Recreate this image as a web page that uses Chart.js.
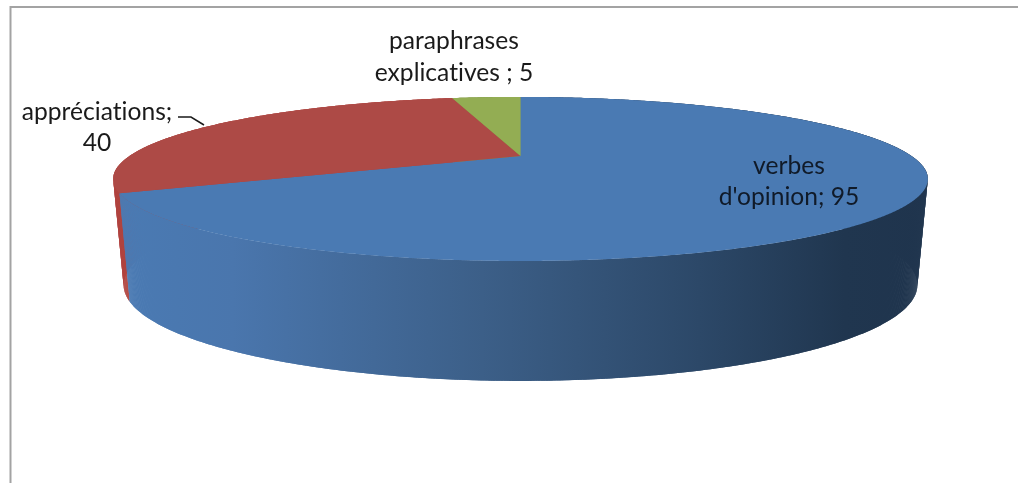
<!DOCTYPE html>
<html>
<head>
<meta charset="utf-8">
<style>
html,body{margin:0;padding:0;background:#fff;overflow:hidden}
canvas{display:block}
</style>
<script src="https://cdn.jsdelivr.net/npm/chart.js@4"></script>
</head>
<body>
<canvas id="c" width="1018" height="483"></canvas>
<script>
const categories = ["verbes d'opinion", "appréciations", "paraphrases explicatives"];
const values = [95, 40, 5];
const topColors = ["#4a7ab3", "#ad4a46", "#93ad53"];
const wallColors = ["#4a7ab3", "#b0443f", "#7f9647"];
const labelLines = [
  ["verbes", "d'opinion; 95"],
  ["appréciations;", "40"],
  ["paraphrases", "explicatives ; 5"]
];
const labelAnchors = [[789, 166], [97, 112], [454, 41]];
const labelLeading = [31, 31, 32];

// Perspective views of the disc: the apex sits above the centre of each ellipse,
// and the lower rim is seen at a slightly steeper tilt than the upper one.
const upperRim = {cx: 520.5, cy: 156, a: 75.6, b: 391, k: -0.28};
const lowerRim = {cx: 520.5, cy: 258, a: 88.5, b: 381, k: -0.28};

function project(angle, rim) {
  const x = Math.cos(angle), y = Math.sin(angle);
  const d = 1 + rim.k * y;
  return [rim.cx + rim.b * x / d, rim.cy + rim.a * y / d];
}

function arcPoints(start, end, rim) {
  const n = Math.max(2, Math.ceil((end - start) / 0.005));
  const pts = [];
  for (let i = 0; i <= n; i++) pts.push(project(start + (end - start) * i / n, rim));
  return pts;
}

function wallGradient(ctx) {
  const g = ctx.createLinearGradient(120, 0, 925, 0);
  g.addColorStop(0, "#4a7ab3");
  g.addColorStop(0.14, "#4a76ad");
  g.addColorStop(0.45, "#3c5f88");
  g.addColorStop(0.72, "#2c4868");
  g.addColorStop(0.9, "#20364f");
  g.addColorStop(1, "#1f344d");
  return g;
}

function fillPoly(ctx, pts, fill) {
  ctx.beginPath();
  pts.forEach((p, i) => i ? ctx.lineTo(p[0], p[1]) : ctx.moveTo(p[0], p[1]));
  ctx.closePath();
  ctx.fillStyle = fill;
  ctx.fill();
}

// The wall is swept as short overlapping strips, since its outline folds over at the silhouette.
function fillWall(ctx, start, end, fill) {
  const upper = arcPoints(start, end, upperRim);
  const lower = arcPoints(start, end, lowerRim);
  for (let i = 0; i + 1 < upper.length; i++) {
    const j = Math.min(i + 2, upper.length - 1);
    fillPoly(ctx, [upper[i], upper[j], lower[j], lower[i]], fill);
  }
}

const projectedPie = {
  id: "projectedPie",
  beforeDatasetDraw(chart) {
    const ctx = chart.ctx;
    const arcs = chart.getDatasetMeta(0).data;
    ctx.save();
    // Walls go back to front so the large slice overlaps the sliver beside it.
    [2, 1, 0].forEach(i => {
      const {startAngle, endAngle} = arcs[i];
      fillWall(ctx, startAngle, endAngle, i === 0 ? wallGradient(ctx) : wallColors[i]);
    });
    arcs.forEach((arc, i) => {
      const pts = arcPoints(arc.startAngle, arc.endAngle, upperRim);
      pts.push([upperRim.cx, upperRim.cy]);
      fillPoly(ctx, pts, topColors[i]);
    });
    ctx.restore();
    return false;
  }
};

const frameAndLabels = {
  id: "frameAndLabels",
  beforeDraw(chart) {
    const ctx = chart.ctx;
    ctx.save();
    ctx.fillStyle = "#fff";
    ctx.fillRect(0, 0, 1018, 483);
    ctx.strokeStyle = "#a3a3a3";
    ctx.lineWidth = 2;
    ctx.beginPath();
    ctx.moveTo(10.5, 483);
    ctx.lineTo(10.5, 7);
    ctx.lineTo(1018, 7);
    ctx.stroke();
    ctx.restore();
  },
  afterDraw(chart) {
    const ctx = chart.ctx;
    ctx.save();
    ctx.font = "24.6px Lato, 'Open Sans', sans-serif";
    ctx.letterSpacing = "0.01px";
    ctx.textAlign = "center";
    ctx.textBaseline = "middle";
    labelLines.forEach((lines, i) => {
      ctx.fillStyle = i === 0 ? "#101a28" : "#1a1a1a";
      lines.forEach((t, j) => ctx.fillText(t, labelAnchors[i][0], labelAnchors[i][1] + j * labelLeading[i]));
    });
    // Leader from the "appréciations" label to its slice
    ctx.strokeStyle = "#1a1a1a";
    ctx.lineWidth = 1.5;
    ctx.beginPath();
    ctx.moveTo(178, 117);
    ctx.lineTo(191, 117);
    ctx.lineTo(204, 125);
    ctx.stroke();
    ctx.restore();
  }
};

new Chart(document.getElementById("c"), {
  type: "pie",
  data: {labels: categories, datasets: [{data: values, backgroundColor: topColors, borderWidth: 0}]},
  options: {
    responsive: false,
    animation: false,
    rotation: 0,
    plugins: {legend: {display: false}, tooltip: {enabled: false}, title: {display: false}}
  },
  plugins: [projectedPie, frameAndLabels]
});
</script>
</body>
</html>
